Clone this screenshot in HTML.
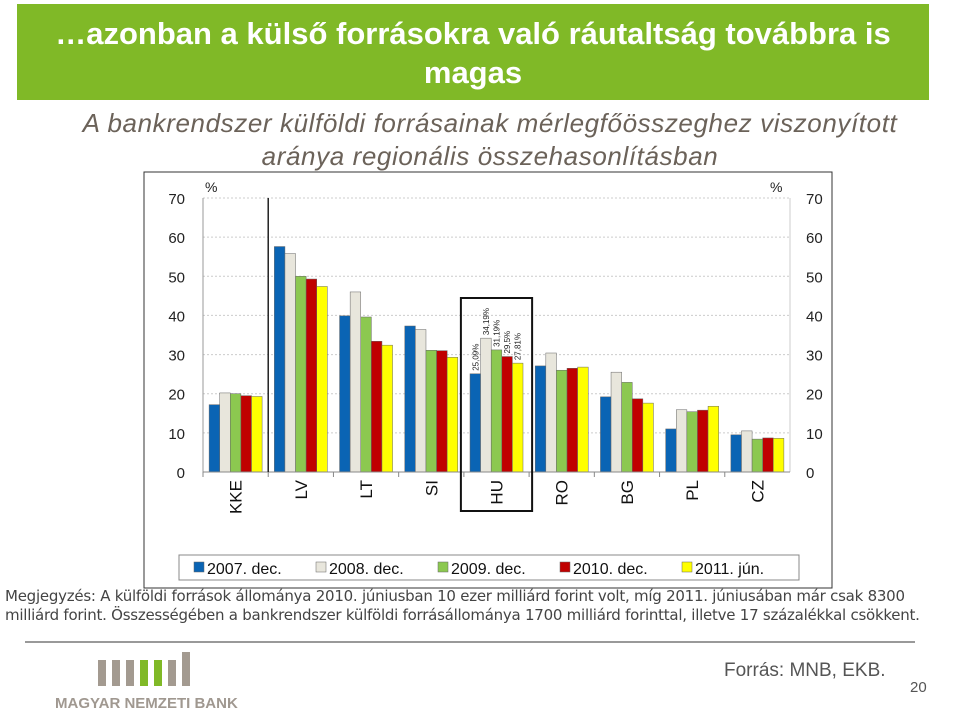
<!DOCTYPE html>
<html><head><meta charset="utf-8">
<style>
body{margin:0;width:959px;height:717px;background:#fff;position:relative;overflow:hidden;font-family:"Liberation Sans",sans-serif}
.banner{position:absolute;left:17px;top:4px;width:912px;height:96px;background:#80b927;color:#fff;font-weight:bold;font-size:31px;line-height:39px;text-align:center;padding-top:10px;box-sizing:border-box}
.sub{position:absolute;left:40px;top:107px;width:900px;text-align:center;color:#6b6259;font-style:italic;font-size:26px;line-height:33px;letter-spacing:0.6px}
.note{position:absolute;left:5px;top:587px;width:955px;font-size:15px;line-height:19px;color:#444;font-family:"DejaVu Sans",sans-serif;letter-spacing:-0.25px;white-space:nowrap}
.hr{position:absolute;left:25px;top:641px;width:890px;height:2px;background:#999}
.src{position:absolute;left:724px;top:660px;font-size:19px;color:#555}
.pg{position:absolute;left:910px;top:679px;font-size:15px;color:#555}
.mnb{position:absolute;left:55px;top:695px;font-size:15px;font-weight:bold;color:#a09890}
</style></head><body>
<div class="banner">…azonban a külső forrásokra való ráutaltság továbbra is<br>magas</div>
<div class="sub">A bankrendszer külföldi forrásainak mérlegfőösszeghez viszonyított<br>aránya regionális összehasonlításban</div>
<svg id="chart" style="position:absolute;left:0;top:0" width="959" height="717"></svg>
<div class="note">Megjegyzés: A külföldi források állománya 2010. júniusban 10 ezer milliárd forint volt, míg 2011. júniusában már csak 8300<br>milliárd forint. Összességében a bankrendszer külföldi forrásállománya 1700 milliárd forinttal, illetve 17 százalékkal csökkent.</div>
<div class="hr"></div>
<svg style="position:absolute;left:95px;top:648px" width="120" height="40">
<rect x="3" y="12" width="8" height="26" fill="#a39a90"/><rect x="17" y="12" width="8" height="26" fill="#a39a90"/><rect x="31" y="12" width="8" height="26" fill="#a39a90"/><rect x="45" y="12" width="8" height="26" fill="#80b927"/><rect x="59" y="12" width="8" height="26" fill="#80b927"/><rect x="73" y="12" width="8" height="26" fill="#a39a90"/><rect x="87" y="4" width="8" height="34" fill="#a39a90"/>
</svg>
<div class="mnb">MAGYAR NEMZETI BANK</div>
<div class="src">Forrás: MNB, EKB.</div>
<div class="pg">20</div>
<script>
const categories=["KKE","LV","LT","SI","HU","RO","BG","PL","CZ"];
const seriesNames=["2007. dec.","2008. dec.","2009. dec.","2010. dec.","2011. jún."];
const s2007=[17.2,57.6,39.9,37.3,25.09,27.1,19.2,11,9.5];
const s2008=[20.2,55.8,46,36.4,34.19,30.4,25.5,15.9,10.5];
const s2009=[20,50,39.6,31.1,31.19,26,22.9,15.4,8.4];
const s2010=[19.5,49.3,33.4,31,29.5,26.5,18.7,15.8,8.7];
const s2011=[19.3,47.4,32.4,29.3,27.81,26.8,17.6,16.8,8.6];
const huLabels=["25,09%","34,19%","31,19%","29,5%","27,81%"];
const yTicks=[0,10,20,30,40,50,60,70];
const colors=["#0a64b4","#e8e6dc","#8cc850","#c00000","#ffff00"];
const series=[s2007,s2008,s2009,s2010,s2011];
const NS="http://www.w3.org/2000/svg";
const svg=document.getElementById('chart');
const X0=203,X1=790,Y0=472,YT=198,ymax=70;
const y=v=>Y0-(v/ymax)*(Y0-YT);
const cw=(X1-X0)/categories.length;
const cx=i=>X0+cw*(i+0.5);
function mk(t,a){const e=document.createElementNS(NS,t);for(const k in a)e.setAttribute(k,a[k]);svg.appendChild(e);return e;}
let e=mk('rect',{x:144,y:172,width:688,height:416,fill:'none',stroke:'#333','stroke-width':1});

yTicks.forEach(t=>{
 if(t>0){e=mk('line',{x1:X0,x2:X1,y1:y(t),y2:y(t),stroke:'#ccc','stroke-dasharray':'2,2'});}
 e=mk('text',{x:185,y:y(t)+6,'text-anchor':'end','font-size':15,fill:'#222'});e.textContent=t;
 e=mk('text',{x:806,y:y(t)+6,'font-size':15,fill:'#222'});e.textContent=t;
});
e=mk('text',{x:205,y:192,'font-size':14,fill:'#222'});e.textContent='%';
e=mk('text',{x:770,y:192,'font-size':14,fill:'#222'});e.textContent='%';
const bw=10.6;
categories.forEach((c,i)=>{
 series.forEach((s,j)=>{
  const bx=cx(i)-bw*2.5+bw*j;
  e=mk('rect',{x:bx,y:y(s[i]),width:bw,height:Y0-y(s[i]),fill:colors[j],stroke:'#666','stroke-width':0.5});
  
  if(c==="HU"){e=mk('text',{x:0,y:0,'font-size':8,fill:'#222',transform:`translate(${bx+bw/2+3},${y(s[i])-3}) rotate(-90)`});e.textContent=huLabels[j];}
 });
 e=mk('text',{x:0,y:0,'font-size':17,fill:'#111','text-anchor':'end',transform:`translate(${cx(i)+6},${480}) rotate(-90)`});e.textContent=c;
 e=mk('line',{x1:X0+cw*i,x2:X0+cw*i,y1:Y0,y2:Y0+5,stroke:'#888'});
});
e=mk('line',{x1:X0,x2:X0,y1:YT,y2:Y0,stroke:'#999'});
e=mk('line',{x1:X1,x2:X1,y1:YT,y2:Y0,stroke:'#ccc'});
e=mk('line',{x1:X0,x2:X1,y1:Y0,y2:Y0,stroke:'#888'});
e=mk('line',{x1:X0+cw,x2:X0+cw,y1:YT,y2:Y0,stroke:'#222','stroke-width':1.5});
e=mk('rect',{x:X0+cw*4-3,y:298,width:cw+6,height:213,fill:'none',stroke:'#111','stroke-width':2});
e=mk('rect',{x:179,y:555,width:620,height:25,fill:'#fff',stroke:'#888'});
seriesNames.forEach((n,j)=>{
 const lx=194+j*122;
 e=mk('rect',{x:lx,y:562,width:10,height:10,fill:colors[j],stroke:'#666','stroke-width':0.5});
 e=mk('text',{x:lx+13,y:574,'font-size':16,fill:'#111'});e.textContent=n;
});
</script>
</body></html>
